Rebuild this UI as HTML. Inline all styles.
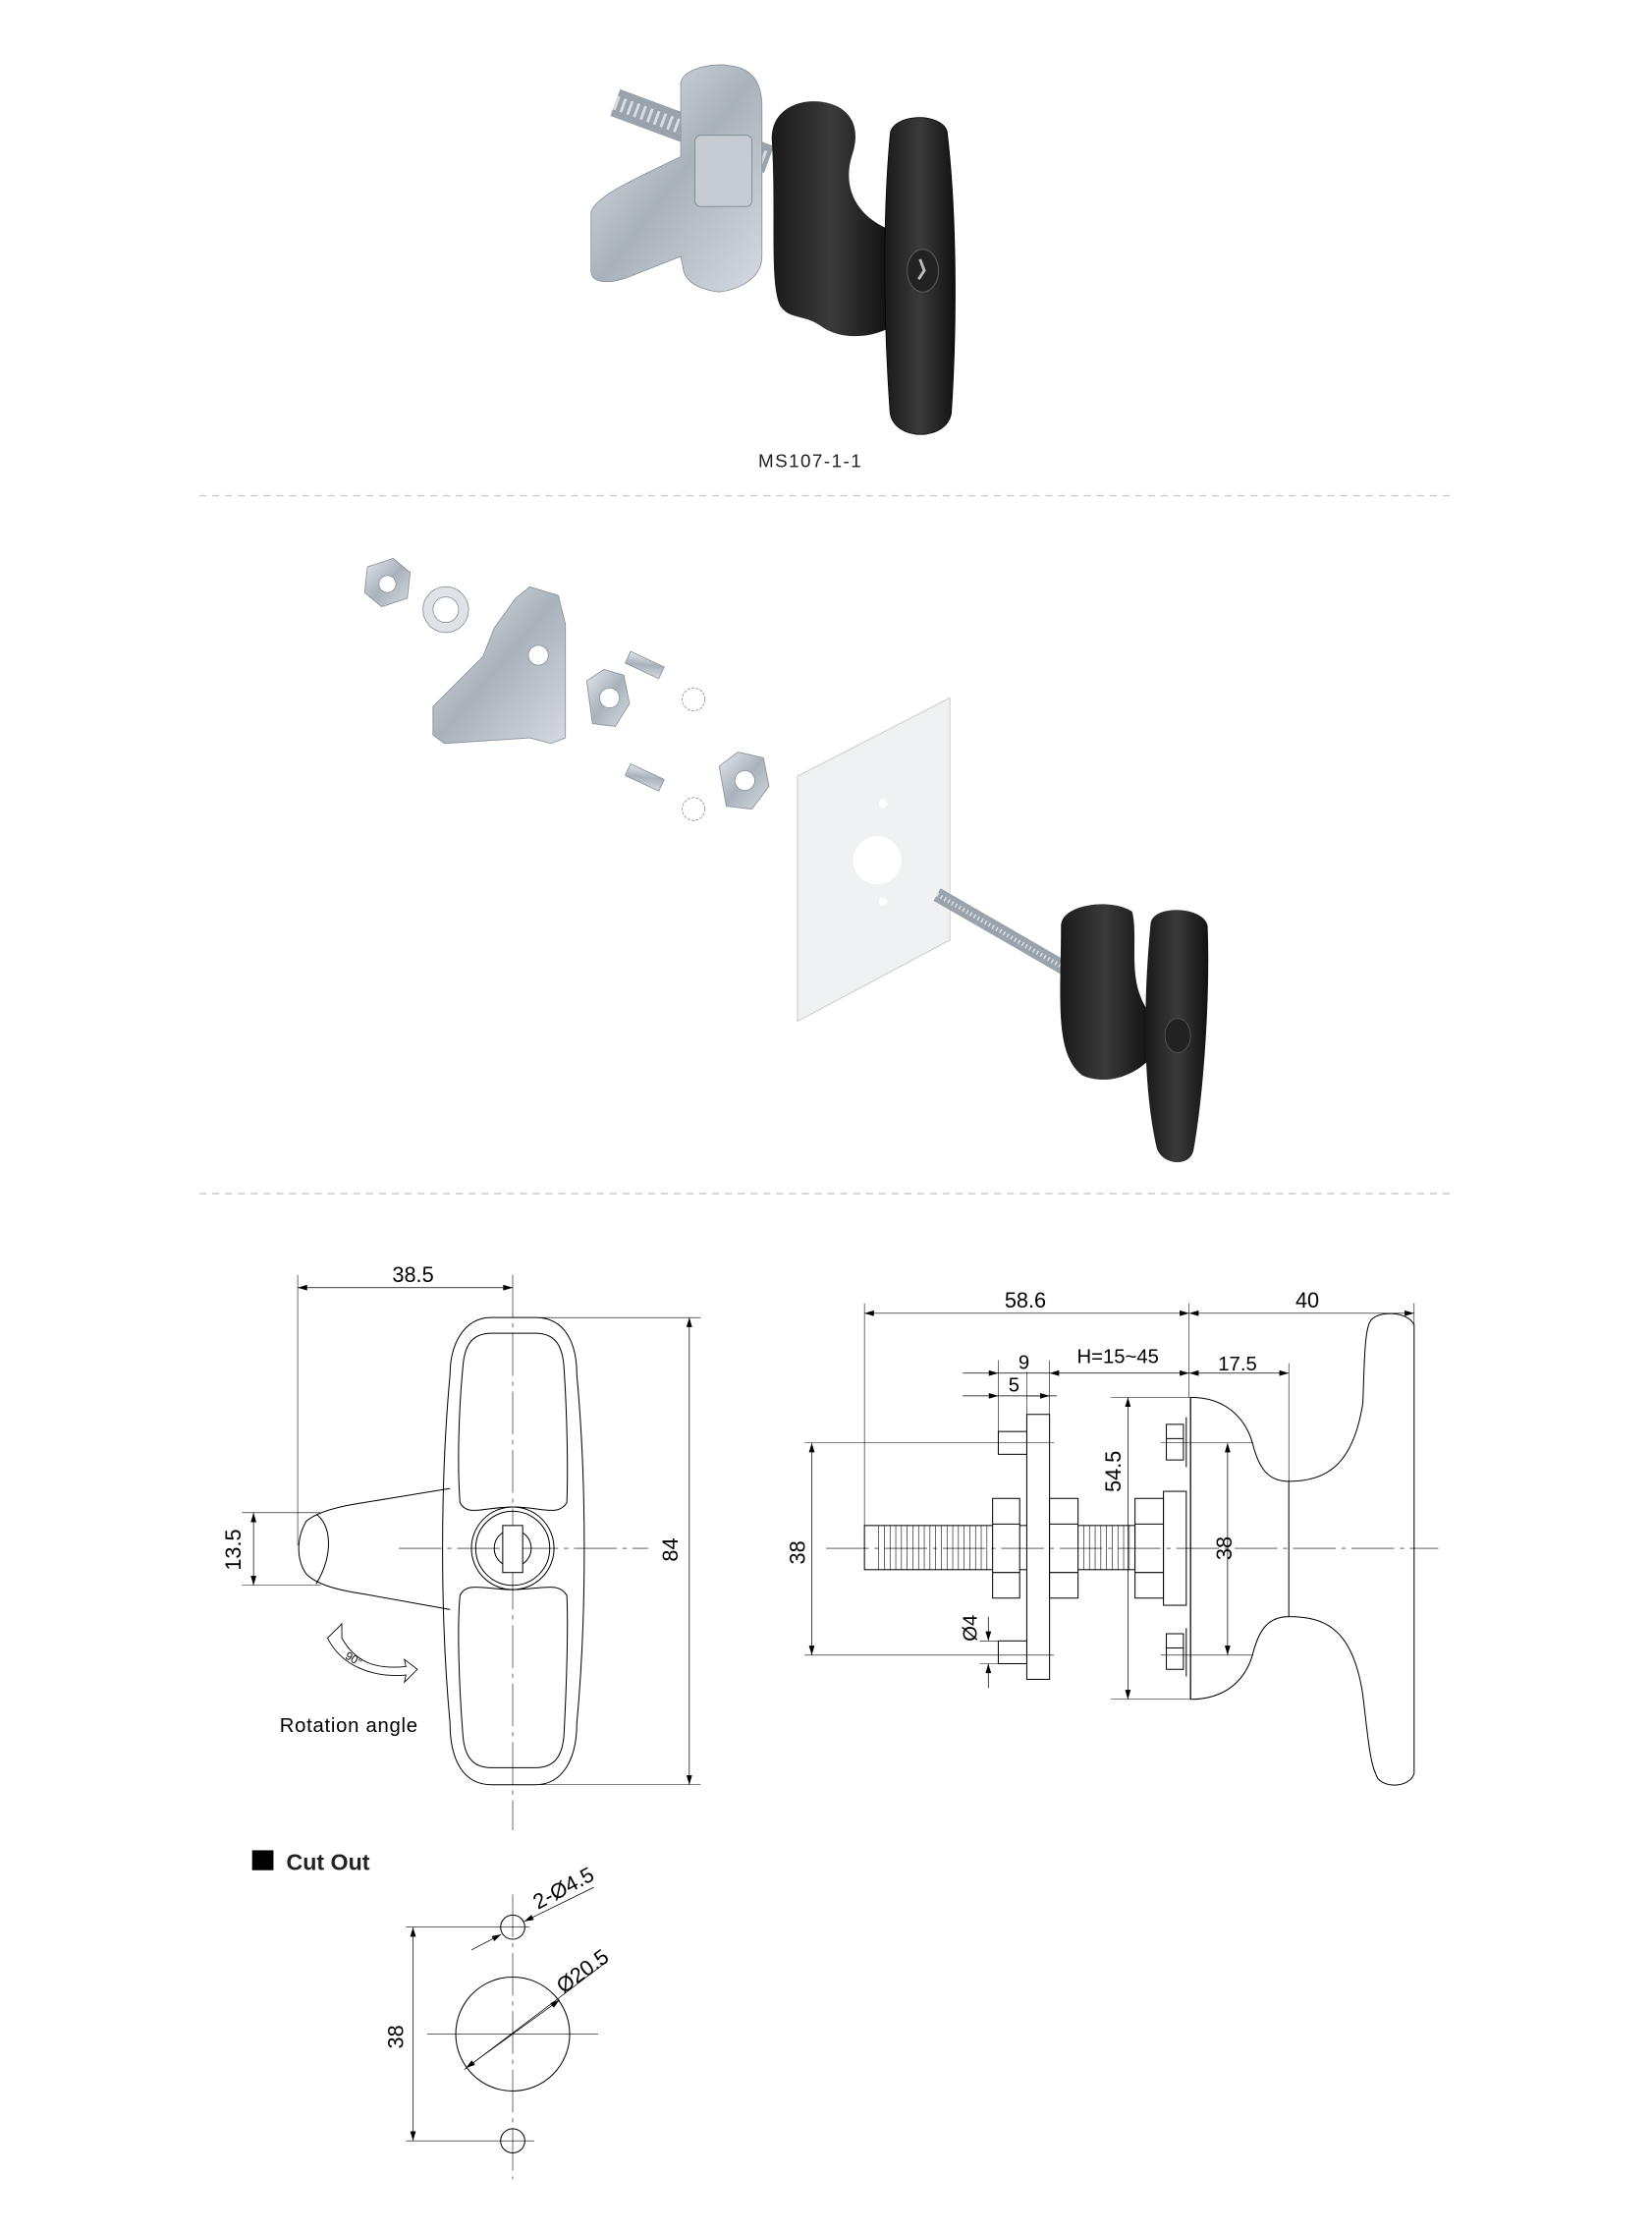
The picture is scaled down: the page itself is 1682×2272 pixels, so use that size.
<!DOCTYPE html>
<html><head><meta charset="utf-8"><style>html,body{margin:0;padding:0;background:#fff}svg{display:block}</style></head>
<body>
<svg width="1682" height="2272" viewBox="0 0 1160 1567" xmlns="http://www.w3.org/2000/svg" font-family="Liberation Sans, sans-serif">
<defs>
<marker id="a" viewBox="0 0 10 6" refX="10" refY="3" markerWidth="10" markerHeight="4" orient="auto-start-reverse" markerUnits="userSpaceOnUse"><path d="M0,0L10,3L0,6z" fill="#000"/></marker>
<linearGradient id="zn" x1="0" x2="1" y1="0" y2="1"><stop offset="0" stop-color="#e4e8ec"/><stop offset=".5" stop-color="#a9b2bb"/><stop offset="1" stop-color="#d5dae0"/></linearGradient>
<linearGradient id="bk" x1="0" x2="1"><stop offset="0" stop-color="#1a1a1a"/><stop offset=".5" stop-color="#3a3a3a"/><stop offset="1" stop-color="#111"/></linearGradient>
</defs>
<rect width="1160" height="1567" fill="#fff"/>

<!-- TOP PHOTO -->
<g>
<line x1="432" y1="72" x2="540" y2="112" stroke="#9aa3ac" stroke-width="20"/>
<line x1="432" y1="72" x2="540" y2="112" stroke="#d8dde2" stroke-width="10" stroke-dasharray="2,3"/>
<path d="M478,58 C480,48 500,44 512,46 C530,48 535,60 535,75 L535,180 C535,195 520,203 505,205 C490,203 482,198 480,190 L478,180 L440,195 C425,200 415,198 415,190 V150 C415,140 440,128 478,110z" fill="url(#zn)" stroke="#8a939c" stroke-width=".6"/>
<rect x="488" y="95" width="40" height="50" rx="4" fill="#c6ccd2" stroke="#7d868f" stroke-width=".6"/>
<path d="M542,100 C540,78 560,68 580,72 C598,76 605,90 598,110 C592,130 600,150 622,160 L625,230 C610,238 590,238 578,230 C565,220 555,225 548,215 C540,200 545,150 542,100z" fill="url(#bk)"/>
<path d="M625,95 C625,80 660,78 665,92 C672,150 672,230 668,290 C665,310 628,310 625,290 C620,220 620,150 625,95z" fill="url(#bk)" stroke="#000" stroke-width=".5"/>
<ellipse cx="648" cy="190" rx="11" ry="15" fill="#222" stroke="#555" stroke-width=".8"/>
<path d="M646,182 l3,8 l-4,6" stroke="#bbb" stroke-width="2" fill="none"/>
<text x="569" y="328" font-size="13" text-anchor="middle" letter-spacing="1" fill="#222">MS107-1-1</text>
</g>

<line x1="140" y1="348" x2="1022" y2="348" stroke="#ccc" stroke-dasharray="5,4" stroke-width="1"/>
<line x1="140" y1="838" x2="1022" y2="838" stroke="#ccc" stroke-dasharray="5,4" stroke-width="1"/>

<!-- EXPLODED -->
<g stroke="#8a939c" stroke-width=".6">
<polygon points="258,398 276,392 288,402 286,420 268,426 256,416" fill="url(#zn)"/><circle cx="272" cy="410" r="6" fill="#fff"/>
<circle cx="313" cy="428" r="16" fill="#dfe3e7"/><circle cx="313" cy="428" r="9" fill="#fff"/>
<path d="M362,420 l10,-8 l20,6 l5,20 v80 l-10,4 l-15,-4 l-60,4 l-8,-6 v-20 l35,-35 l8,-20z" fill="url(#zn)"/>
<circle cx="378" cy="460" r="7" fill="#fff"/>
<polygon points="412,478 424,470 438,474 442,494 432,510 416,508" fill="url(#zn)"/><circle cx="428" cy="490" r="7" fill="#fff"/>
<rect x="440" y="462" width="26" height="9" fill="url(#zn)" transform="rotate(25 452 466)"/>
<circle cx="487" cy="491" r="8" fill="none" stroke-dasharray="2,1"/>
<rect x="440" y="541" width="26" height="9" fill="url(#zn)" transform="rotate(25 452 545)"/>
<circle cx="487" cy="568" r="8" fill="none" stroke-dasharray="2,1"/>
<polygon points="505,538 518,528 536,532 540,552 528,568 510,566" fill="url(#zn)"/><circle cx="523" cy="548" r="7" fill="#fff"/>
</g>
<polygon points="560,545 667,490 667,660 560,717" fill="#f0f1f2" stroke="#cfd2d5" stroke-width=".8"/>
<circle cx="616" cy="604" r="17" fill="#fff"/><circle cx="620" cy="564" r="3" fill="#fff"/><circle cx="620" cy="633" r="3" fill="#fff"/>
<line x1="658" y1="628" x2="748" y2="680" stroke="#9aa3ac" stroke-width="10"/>
<line x1="658" y1="628" x2="748" y2="680" stroke="#dfe4e8" stroke-width="3" stroke-dasharray="1,2"/>
<path d="M745,650 C745,635 780,630 795,640 C800,660 790,690 808,712 L806,745 C790,760 770,760 760,755 C740,740 745,700 745,650z" fill="url(#bk)"/>
<path d="M808,648 C810,635 845,636 848,650 C850,700 845,770 838,808 C835,820 815,818 812,805 C802,760 803,700 808,648z" fill="url(#bk)"/>
<ellipse cx="827" cy="727" rx="9" ry="12" fill="#222" stroke="#555" stroke-width=".6"/>

<!-- FRONT VIEW -->
<g fill="none" stroke="#000" stroke-width=".7">
<line x1="209" y1="895" x2="209" y2="1085" stroke-width=".4"/>
<line x1="360" y1="895" x2="360" y2="1285" stroke-width=".4" stroke-dasharray="30,4,3,4"/>
<line x1="209" y1="904" x2="360" y2="904" marker-start="url(#a)" marker-end="url(#a)" stroke-width=".5"/>
<line x1="280" y1="1087" x2="455" y2="1087" stroke-width=".4" stroke-dasharray="30,4,3,4"/>
<path d="M345,925 H376 C398,925 405,945 405,965 C412,1040 412,1135 405,1210 C405,1235 395,1253 376,1253 H345 C325,1253 316,1235 316,1210 C309,1135 309,1040 316,965 C316,945 325,925 345,925z"/>
<path d="M345,936 H376 C390,936 395,945 396,960 C398,990 399,1030 398,1055 C392,1065 380,1058 360,1058 C340,1058 328,1065 323,1055 C321,1030 322,990 325,960 C326,945 331,936 345,936z"/>
<path d="M345,1241 H376 C390,1241 395,1232 396,1218 C398,1180 399,1140 398,1120 C392,1110 380,1116 360,1116 C340,1116 328,1110 323,1120 C321,1140 322,1180 325,1218 C326,1232 331,1241 345,1241z"/>
<circle cx="360" cy="1087" r="29"/><circle cx="360" cy="1087" r="26"/>
<circle cx="360" cy="1087" r="13"/>
<rect x="353" y="1071" width="14" height="33" fill="#fff"/>
<path d="M316,1045 L255,1055 C235,1058 222,1062 215,1068 C208,1080 208,1095 215,1105 C222,1112 235,1116 255,1119 L316,1130"/>
<path d="M222,1063 C232,1070 235,1090 222,1112"/>
<line x1="170" y1="1062" x2="225" y2="1062" stroke-width=".4"/>
<line x1="170" y1="1113" x2="225" y2="1113" stroke-width=".4"/>
<line x1="178" y1="1062" x2="178" y2="1113" marker-start="url(#a)" marker-end="url(#a)" stroke-width=".5"/>
<line x1="380" y1="925" x2="492" y2="925" stroke-width=".4"/>
<line x1="380" y1="1253" x2="492" y2="1253" stroke-width=".4"/>
<line x1="484" y1="925" x2="484" y2="1253" marker-start="url(#a)" marker-end="url(#a)" stroke-width=".5"/>
<path d="M232,1148 L240,1140 L240,1150 C250,1168 265,1172 285,1170 L284,1165 L293,1172 L284,1181 L285,1176 C262,1178 240,1170 230,1150z" stroke-width=".6"/>
</g>
<text x="290" y="900" font-size="15" text-anchor="middle">38.5</text>
<text transform="translate(169,1088) rotate(-90)" font-size="15" text-anchor="middle">13.5</text>
<text transform="translate(476,1088) rotate(-90)" font-size="15" text-anchor="middle">84</text>
<text transform="translate(247,1167) rotate(30)" font-size="8" text-anchor="middle">90°</text>
<text x="245" y="1216" font-size="14" text-anchor="middle" letter-spacing=".5">Rotation angle</text>

<!-- SIDE VIEW -->
<g fill="none" stroke="#000" stroke-width=".7">
<line x1="607" y1="915" x2="607" y2="1071" stroke-width=".4"/>
<line x1="835" y1="915" x2="835" y2="981" stroke-width=".4"/>
<line x1="993" y1="915" x2="993" y2="930" stroke-width=".4"/>
<line x1="607" y1="922" x2="835" y2="922" marker-start="url(#a)" marker-end="url(#a)" stroke-width=".5"/>
<line x1="835" y1="922" x2="993" y2="922" marker-start="url(#a)" marker-end="url(#a)" stroke-width=".5"/>
<line x1="701" y1="955" x2="701" y2="1005" stroke-width=".4"/>
<line x1="721" y1="963" x2="721" y2="993" stroke-width=".4"/>
<line x1="737" y1="955" x2="737" y2="993" stroke-width=".4"/>
<line x1="676" y1="964" x2="701" y2="964" marker-end="url(#a)" stroke-width=".5"/>
<line x1="701" y1="964" x2="737" y2="964" stroke-width=".5"/>
<line x1="676" y1="980" x2="701" y2="980" marker-end="url(#a)" stroke-width=".5"/>
<line x1="701" y1="980" x2="742" y2="980" stroke-width=".5"/>
<line x1="721" y1="980" x2="737" y2="980" marker-end="url(#a)" stroke-width=".5"/>
<line x1="737" y1="964" x2="835" y2="964" marker-start="url(#a)" marker-end="url(#a)" stroke-width=".5"/>
<line x1="905" y1="957" x2="905" y2="1040" stroke-width=".4"/>
<line x1="835" y1="964" x2="905" y2="964" marker-start="url(#a)" marker-end="url(#a)" stroke-width=".5"/>
<rect x="607" y="1071" width="190" height="31"/>
<path d="M617,1071 v31 M621,1071 v31 M625,1071 v31 M629,1071 v31 M633,1071 v31 M637,1071 v31 M641,1071 v31 M645,1071 v31 M649,1071 v31 M653,1071 v31 M657,1071 v31 M661,1071 v31 M665,1071 v31 M669,1071 v31 M673,1071 v31 M677,1071 v31 M681,1071 v31 M685,1071 v31 M689,1071 v31 M693,1071 v31 M761,1071 v31 M765,1071 v31 M769,1071 v31 M773,1071 v31 M777,1071 v31 M781,1071 v31 M785,1071 v31 M789,1071 v31 M793,1071 v31" stroke-width=".4"/>
<rect x="721" y="993" width="16" height="186" fill="#fff"/>
<rect x="701" y="1005" width="20" height="16" fill="#fff"/>
<rect x="701" y="1152" width="20" height="16" fill="#fff"/>
<path d="M697,1052 h19 v70 h-19z M697,1070 h19 M697,1104 h19" fill="#fff"/>
<path d="M737,1052 h20 v70 h-20z M737,1070 h20 M737,1104 h20" fill="#fff"/>
<path d="M797,1052 h20 v70 h-20z M797,1070 h20 M797,1104 h20" fill="#fff"/>
<rect x="817" y="1047" width="16" height="80" fill="#fff"/>
<path d="M819,1000 h12 v25 h-12z M819,1010 h12 M819,1147 h12 v25 h-12z M819,1157 h12" fill="#fff"/>
<line x1="833" y1="995" x2="833" y2="1030"/><line x1="833" y1="1143" x2="833" y2="1177"/>
<path d="M836,981 C860,981 875,995 880,1015 C884,1030 890,1040 905,1040 C930,1040 950,1030 957,985 C958,960 958,935 962,928 C966,920 988,920 993,930 V1245 C990,1256 968,1256 966,1245 C962,1238 960,1215 957,1190 C950,1143 930,1135 905,1135 C890,1135 884,1145 880,1160 C875,1180 860,1193 836,1193 Z" fill="#fff"/>
<line x1="905" y1="1040" x2="905" y2="1135"/>
<line x1="836" y1="981" x2="836" y2="1193"/>
<line x1="580" y1="1087" x2="1010" y2="1087" stroke-width=".4" stroke-dasharray="30,4,3,4"/>
<line x1="780" y1="981" x2="836" y2="981" stroke-width=".4"/>
<line x1="780" y1="1193" x2="836" y2="1193" stroke-width=".4"/>
<line x1="792" y1="981" x2="792" y2="1193" marker-start="url(#a)" marker-end="url(#a)" stroke-width=".5"/>
<line x1="815" y1="1013" x2="880" y2="1013" stroke-width=".4"/>
<line x1="815" y1="1162" x2="880" y2="1162" stroke-width=".4"/>
<line x1="862" y1="1013" x2="862" y2="1162" marker-start="url(#a)" marker-end="url(#a)" stroke-width=".5"/>
<line x1="565" y1="1013" x2="740" y2="1013" stroke-width=".4"/>
<line x1="565" y1="1162" x2="740" y2="1162" stroke-width=".4"/>
<line x1="570" y1="1013" x2="570" y2="1162" marker-start="url(#a)" marker-end="url(#a)" stroke-width=".5"/>
<line x1="694" y1="1135" x2="694" y2="1152" marker-end="url(#a)" stroke-width=".5"/>
<line x1="694" y1="1185" x2="694" y2="1168" marker-end="url(#a)" stroke-width=".5"/>
<line x1="688" y1="1152" x2="701" y2="1152" stroke-width=".4"/>
<line x1="688" y1="1168" x2="701" y2="1168" stroke-width=".4"/>
</g>
<text x="720" y="918" font-size="15" text-anchor="middle">58.6</text>
<text x="918" y="918" font-size="15" text-anchor="middle">40</text>
<text x="719" y="961" font-size="14" text-anchor="middle">9</text>
<text x="712" y="977" font-size="14" text-anchor="middle">5</text>
<text x="785" y="957" font-size="14" text-anchor="middle">H=15~45</text>
<text x="869" y="962" font-size="14" text-anchor="middle">17.5</text>
<text transform="translate(787,1033) rotate(-90)" font-size="15" text-anchor="middle">54.5</text>
<text transform="translate(865,1087) rotate(-90)" font-size="15" text-anchor="middle">38</text>
<text transform="translate(565,1090) rotate(-90)" font-size="15" text-anchor="middle">38</text>
<text transform="translate(686,1143) rotate(-90)" font-size="14" text-anchor="middle">Ø4</text>

<!-- CUT OUT -->
<rect x="177" y="1299" width="15" height="14" fill="#000"/>
<text x="201" y="1313" font-size="16" font-weight="bold" fill="#222">Cut Out</text>
<g fill="none" stroke="#000" stroke-width=".7">
<line x1="360" y1="1330" x2="360" y2="1530" stroke-width=".4" stroke-dasharray="30,4,3,4"/>
<line x1="300" y1="1428" x2="420" y2="1428" stroke-width=".4"/>
<circle cx="360" cy="1353" r="8.5"/><circle cx="360" cy="1503" r="8.5"/>
<circle cx="360" cy="1428" r="40"/>
<line x1="285" y1="1353" x2="372" y2="1353" stroke-width=".4"/>
<line x1="285" y1="1503" x2="375" y2="1503" stroke-width=".4"/>
<line x1="290" y1="1353" x2="290" y2="1503" marker-start="url(#a)" marker-end="url(#a)" stroke-width=".5"/>
<line x1="331" y1="1369" x2="352" y2="1358" marker-end="url(#a)" stroke-width=".5"/>
<line x1="417" y1="1325" x2="368" y2="1349" marker-end="url(#a)" stroke-width=".5"/>
<line x1="326" y1="1453" x2="425" y2="1378" stroke-width=".5"/>
<line x1="360" y1="1428" x2="327" y2="1452" marker-end="url(#a)" stroke-width=".5"/>
<line x1="360" y1="1428" x2="393" y2="1404" marker-end="url(#a)" stroke-width=".5"/>
</g>
<text transform="translate(398,1330) rotate(-28)" font-size="15" text-anchor="middle">2-Ø4.5</text>
<text transform="translate(412,1388) rotate(-36)" font-size="15" text-anchor="middle">Ø20.5</text>
<text transform="translate(283,1430) rotate(-90)" font-size="15" text-anchor="middle">38</text>
</svg>
</body></html>
